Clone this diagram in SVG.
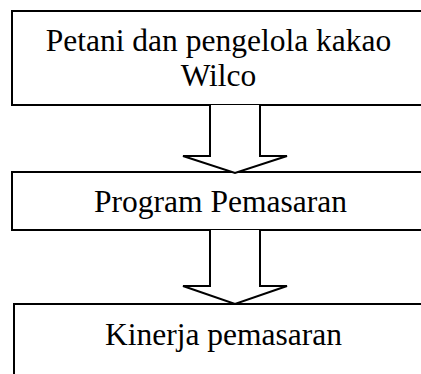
<svg xmlns="http://www.w3.org/2000/svg" width="421" height="374" viewBox="0 0 421 374">
<style>
.box{fill:#fff;stroke:#000;stroke-width:2}
.arr{fill:#fff;stroke:#000;stroke-width:2;stroke-linejoin:miter}
text{font-family:"Liberation Serif","Times New Roman",serif;font-size:31.5px;fill:#000;text-anchor:middle}
</style>
<rect width="421" height="374" fill="#fff"/>
<g id="node1">
<rect class="box" x="12" y="11" width="420" height="94"/>
<text x="218.5" y="51">Petani dan pengelola kakao</text>
<text x="218.5" y="86">Wilco</text>
</g>
<g id="node2">
<rect class="box" x="12" y="172" width="420" height="58"/>
<text x="220.5" y="212">Program Pemasaran</text>
</g>
<g id="node3">
<rect class="box" x="14" y="304" width="420" height="90"/>
<text x="223.5" y="345">Kinerja pemasaran</text>
</g>
<g id="connectors">
<path class="arr" d="M210,105 V156 H183 L235,173 L287,156 H260 V105"/>
<path class="arr" d="M210,230 V286 H183 L235,304 L287,286 H260 V230"/>
</g>
</svg>
